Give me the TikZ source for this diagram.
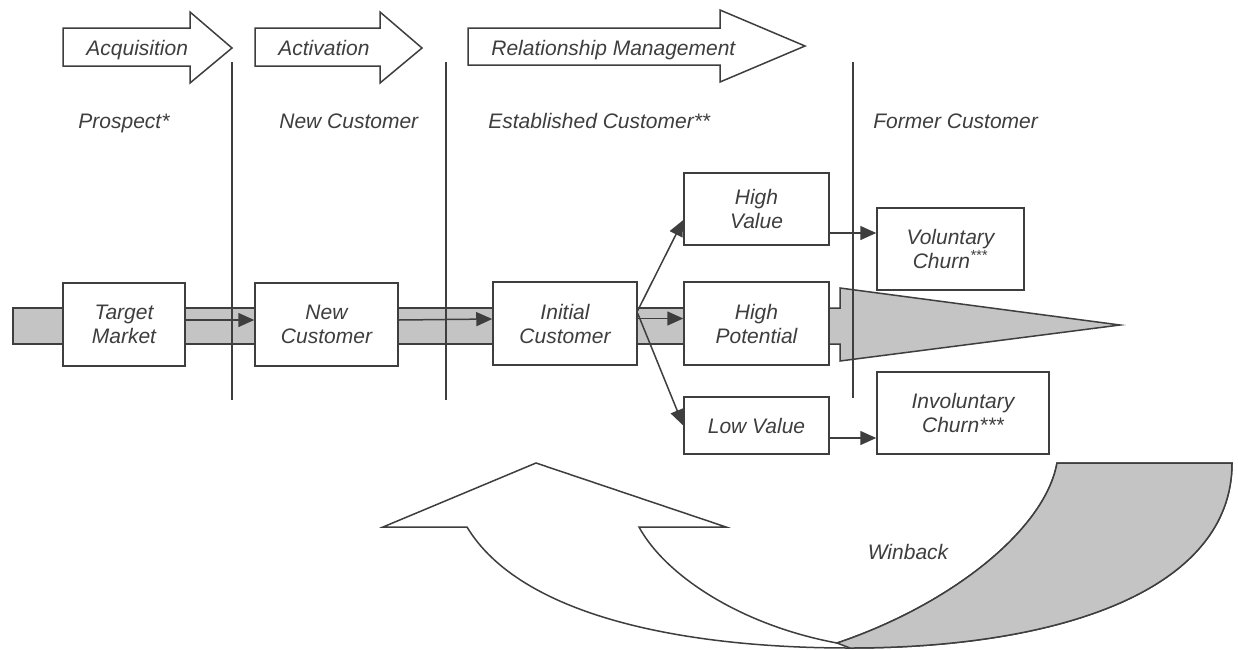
\documentclass[tikz,border=0pt]{standalone}
\usepackage{fontspec}
\setmainfont{Liberation Sans}
\usepackage{tikz}
\usetikzlibrary{positioning}
\usetikzlibrary{arrows.meta}

\definecolor{ink}{HTML}{3E3E3E}
\definecolor{pipe}{HTML}{C4C4C4}

\begin{document}
\begin{tikzpicture}[x=0.5pt, y=-0.5pt,
    every node/.style={font=\fontsize{10.5}{12}\selectfont\itshape, text=ink, inner sep=0pt},
    stagebox/.style={draw=ink, fill=white, line width=0.75pt, align=center},
    outline/.style={draw=ink, line width=0.75pt},
    flow/.style={ink, line width=0.75pt, -{Triangle[length=8pt, width=7pt]}}]
    \useasboundingbox (0, 0) rectangle (1238, 649);
    \fill[white] (0, 0) rectangle (1238, 649);

    \filldraw[outline, fill=white] (63, 28) -- (190, 28) -- (190, 12) -- (232, 48) -- (190, 83) -- (190, 66) -- (63, 66) -- cycle;
    \filldraw[outline, fill=white] (255, 28) -- (380, 28) -- (380, 12) -- (422, 48) -- (380, 83) -- (380, 66) -- (255, 66) -- cycle;
    \filldraw[outline, fill=white] (468, 28) -- (720, 28) -- (720, 10) -- (805, 46) -- (720, 82) -- (720, 65) -- (468, 65) -- cycle;
    \node[anchor=base west] (acq) at (86, 55) {Acquisition};
    \node[anchor=base west] (act) at (278, 55) {Activation};
    \node[anchor=base west] (rm) at (491, 55) {Relationship Management};

    \node[anchor=base west] (prospect) at (78, 128) {Prospect*};
    \node[anchor=base west] (newcust) at (279, 128) {New Customer};
    \node[anchor=base west] (established) at (488, 128) {Established Customer**};
    \node[anchor=base west] (former) at (873, 128) {Former Customer};

    \filldraw[outline, fill=pipe] (13, 308) rectangle (829, 344);
    \filldraw[outline, fill=pipe] (829, 308) -- (840, 308) -- (840, 288) -- (1120, 325) -- (840, 361) -- (840, 344) -- (829, 344);

    \node[stagebox, minimum width=61pt, minimum height=41.5pt] (tm) at (124, 324.5) {Target\\Market};
    \node[stagebox, minimum width=71.5pt, minimum height=41.5pt] (nc) at (326.5, 324.5) {New\\Customer};
    \node[stagebox, minimum width=72pt, minimum height=41.5pt] (ic) at (565, 323.5) {Initial\\Customer};
    \node[stagebox, minimum width=72.5pt, minimum height=36pt] (hv) at (756.5, 209) {High\\Value};
    \node[stagebox, minimum width=72.5pt, minimum height=41.5pt] (hp) at (756.5, 323.5) {High\\Potential};
    \node[stagebox, minimum width=72.5pt, minimum height=28.5pt] (lv) at (756.5, 425.5) {Low Value};
    \node[stagebox, minimum width=73.5pt, minimum height=41pt] (vc) at (950.5, 249) {Voluntary\\Churn\textsuperscript{***}};
    \node[stagebox, minimum width=86pt, minimum height=41pt] (ivc) at (963, 413) {Involuntary\\Churn***};

    \draw[flow] ([yshift=2.25pt]tm.east) -- ([yshift=2.25pt]nc.west);
    \draw[flow] ([yshift=2.25pt]nc.east) -- ([yshift=2.25pt]ic.west);
    \draw[flow] ([yshift=2.5pt]ic.east) -- ([yshift=2.5pt]hp.west);
    \draw[flow] ([yshift=6.5pt]ic.east) -- ([yshift=-5.5pt]hv.west);
    \draw[flow] ([yshift=5pt]ic.east) -- (lv.west);
    \draw[flow] ([yshift=-12pt]hv.east) -- ([yshift=8pt]vc.west);
    \draw[flow] ([yshift=-6.25pt]lv.east) -- ([yshift=-12.5pt]ivc.west);

    \draw[outline] (232, 62) -- (232, 400);
    \draw[outline] (446, 62) -- (446, 400);
    \draw[outline] (853, 62) -- (853, 398);

    \filldraw[outline, fill=white] (467, 527) -- (383, 527) -- (536, 463) -- (726, 527) -- (639, 527)
        .. controls (665, 575) and (740, 625) .. (837, 643)
        .. controls (950, 605) and (1045, 530) .. (1057, 463) -- (1232, 463)
        .. controls (1232, 590) and (1060, 648) .. (850, 648)
        .. controls (680, 648) and (520, 615) .. (467, 527) -- cycle;
    \filldraw[outline, fill=pipe] (837, 643) .. controls (950, 605) and (1045, 530) .. (1057, 463) -- (1232, 463)
        .. controls (1232, 590) and (1060, 648) .. (850, 648) -- cycle;
    \node (winback) at (908, 552) {Winback};
\end{tikzpicture}
\end{document}
